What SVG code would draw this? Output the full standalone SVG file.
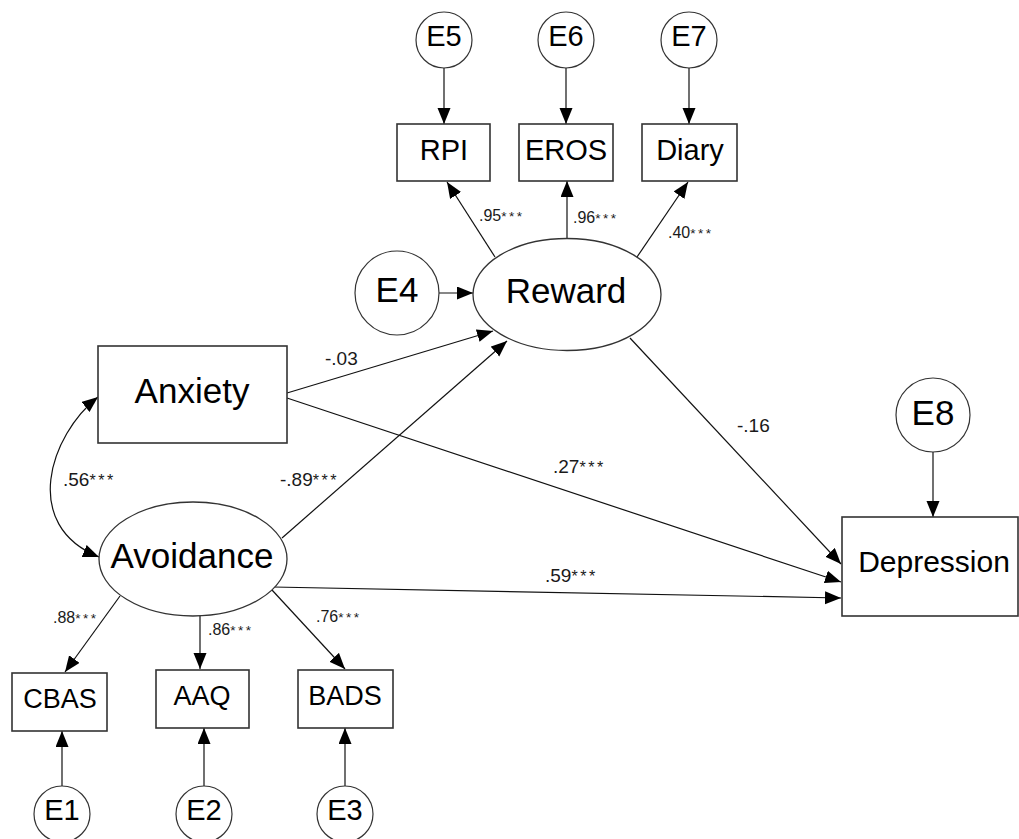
<svg xmlns="http://www.w3.org/2000/svg" width="1019" height="839" viewBox="0 0 1019 839">
<defs>
<marker id="ah" markerUnits="userSpaceOnUse" markerWidth="18" markerHeight="14" refX="16" refY="6.5" orient="auto-start-reverse">
<path d="M0,0 L16,6.5 L0,13 z" fill="#000"/>
</marker>
</defs>
<style>
.box{fill:#fff;stroke:#333;stroke-width:1.6}
.lat{fill:#fff;stroke:#333;stroke-width:1.3}
.err{fill:#fff;stroke:#333;stroke-width:1.2}
.t{font-family:"Liberation Sans",Arial,sans-serif;fill:#000;text-anchor:middle}
.c line,.c path{stroke:#111;stroke-width:1.2;fill:none;marker-end:url(#ah)}
.lb{font-family:"Liberation Sans",Arial,sans-serif;fill:#1a1a1a}
.s{font-size:16px}
.m{font-size:19px}
.st{font-size:0.85em;letter-spacing:2.5px}
</style>
<rect width="1019" height="839" fill="#fff"/>

<g id="connectors" class="c">
<line x1="444" y1="67" x2="444" y2="124"/>
<line x1="566" y1="67" x2="566" y2="124"/>
<line x1="689" y1="67" x2="689" y2="124"/>
<line x1="495" y1="257" x2="447" y2="182"/>
<line x1="567" y1="238" x2="567" y2="181"/>
<line x1="637" y1="257" x2="688" y2="182"/>
<line x1="439" y1="293" x2="473" y2="293"/>
<line x1="287" y1="393" x2="493" y2="331"/>
<line x1="282" y1="538" x2="507" y2="341"/>
<line x1="287" y1="398" x2="841" y2="582"/>
<line x1="630" y1="338" x2="841" y2="564"/>
<line x1="273" y1="587" x2="841" y2="598"/>
<line x1="933" y1="452" x2="933" y2="517"/>
<line x1="120" y1="596" x2="65" y2="672"/>
<line x1="200" y1="615" x2="200" y2="669"/>
<line x1="272" y1="590" x2="345" y2="669"/>
<line x1="62" y1="786" x2="62" y2="731"/>
<line x1="204" y1="786" x2="204" y2="728"/>
<line x1="345" y1="786" x2="345" y2="728"/>
<path d="M98,397 C50,435 20,525 99,557" marker-start="url(#ah)"/>
</g>

<g id="E5"><circle class="err" cx="444" cy="40" r="28"/><text class="t" x="444" y="46" font-size="29">E5</text></g>
<g id="E6"><circle class="err" cx="566" cy="40" r="28"/><text class="t" x="566" y="46" font-size="29">E6</text></g>
<g id="E7"><circle class="err" cx="689" cy="40" r="28"/><text class="t" x="689" y="46" font-size="29">E7</text></g>

<g id="RPI"><rect class="box" x="397" y="124" width="93" height="57"/><text class="t" x="444" y="160" font-size="29">RPI</text></g>
<g id="EROS"><rect class="box" x="519" y="124" width="94" height="57"/><text class="t" x="566" y="160" font-size="29">EROS</text></g>
<g id="Diary"><rect class="box" x="642" y="124" width="95" height="57"/><text class="t" x="690" y="160" font-size="29">Diary</text></g>

<g id="E4"><circle class="err" cx="397" cy="293" r="42"/><text class="t" x="397" y="302" font-size="35">E4</text></g>
<g id="Reward"><ellipse class="lat" cx="567" cy="294.5" rx="94" ry="56"/><text class="t" x="566" y="303" font-size="35">Reward</text></g>

<g id="Anxiety"><rect class="box" x="98" y="346" width="189" height="97"/><text class="t" x="192" y="403" font-size="35">Anxiety</text></g>
<g id="Avoidance"><ellipse class="lat" cx="193" cy="559" rx="94" ry="57"/><text class="t" x="192" y="568" font-size="35">Avoidance</text></g>

<g id="E8"><circle class="err" cx="933" cy="415" r="37"/><text class="t" x="933" y="425" font-size="35">E8</text></g>
<g id="Depression"><rect class="box" x="842" y="517" width="176" height="99"/><text class="t" x="934" y="572" font-size="30">Depression</text></g>

<g id="CBAS"><rect class="box" x="12" y="673" width="95" height="58"/><text class="t" x="60" y="708" font-size="27">CBAS</text></g>
<g id="AAQ"><rect class="box" x="156" y="670" width="93" height="58"/><text class="t" x="202" y="705" font-size="27">AAQ</text></g>
<g id="BADS"><rect class="box" x="298" y="670" width="95" height="58"/><text class="t" x="345" y="705" font-size="27">BADS</text></g>

<g id="E1"><circle class="err" cx="62" cy="814" r="28"/><text class="t" x="62" y="820" font-size="29">E1</text></g>
<g id="E2"><circle class="err" cx="204" cy="814" r="28"/><text class="t" x="204" y="820" font-size="29">E2</text></g>
<g id="E3"><circle class="err" cx="345" cy="814" r="28"/><text class="t" x="345" y="820" font-size="29">E3</text></g>

<g id="labels">
<text class="lb s" x="479" y="221">.95<tspan class="st">***</tspan></text>
<text class="lb s" x="573" y="223">.96<tspan class="st">***</tspan></text>
<text class="lb s" x="668" y="238">.40<tspan class="st">***</tspan></text>
<text class="lb m" x="325" y="365">-.03</text>
<text class="lb m" x="280" y="486">-.89<tspan class="st">***</tspan></text>
<text class="lb m" x="553" y="473">.27<tspan class="st">***</tspan></text>
<text class="lb m" x="545" y="582">.59<tspan class="st">***</tspan></text>
<text class="lb m" x="737" y="432">-.16</text>
<text class="lb m" x="63" y="486">.56<tspan class="st">***</tspan></text>
<text class="lb s" x="53" y="623">.88<tspan class="st">***</tspan></text>
<text class="lb s" x="208" y="635">.86<tspan class="st">***</tspan></text>
<text class="lb s" x="316" y="622">.76<tspan class="st">***</tspan></text>
</g>
</svg>
